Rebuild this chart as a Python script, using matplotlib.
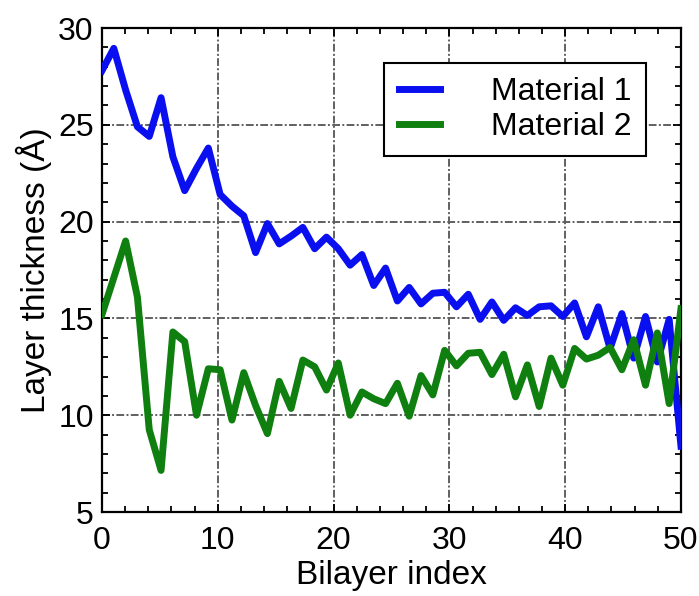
import numpy as np
import matplotlib
matplotlib.use("Agg")
import matplotlib.pyplot as plt
from matplotlib.ticker import MultipleLocator

plt.rcParams['font.family'] = ['Liberation Sans', 'DejaVu Sans']

# layer thicknesses (50 bilayers, spread over 0..50)
material1 = [27.8, 28.95, 26.8, 24.9, 24.4, 26.4, 23.35, 21.6, 22.75, 23.8,
             21.4, 20.8, 20.3, 18.4, 19.9, 18.85, 19.25, 19.7, 18.6, 19.2,
             18.6, 17.75, 18.3, 16.7, 17.6, 15.9, 16.6, 15.75, 16.3, 16.35,
             15.6, 16.25, 14.95, 15.85, 14.9, 15.55, 15.15, 15.6, 15.65, 15.1,
             15.8, 14.05, 15.6, 13.45, 15.25, 12.95, 15.1, 12.75, 14.95, 8.4]
material2 = [15.2, 17.1, 19.0, 16.1, 9.25, 7.15, 14.3, 13.8, 10.0, 12.4,
             12.35, 9.75, 12.2, 10.5, 9.05, 11.75, 10.35, 12.85, 12.5, 11.3,
             12.7, 10.0, 11.2, 10.85, 10.6, 11.65, 9.95, 12.05, 11.05, 13.35,
             12.55, 13.2, 13.25, 12.1, 13.15, 10.95, 12.6, 10.45, 12.95, 11.55,
             13.45, 12.9, 13.1, 13.5, 12.35, 13.9, 11.55, 14.25, 10.6, 15.5]
labels = ['Material 1', 'Material 2']

bilayer = np.linspace(0, 50, len(material1))

fig = plt.figure(figsize=(6.99, 5.96), dpi=100)
ax = fig.add_axes([0.1459, 0.1409, 0.8283, 0.8121])

ax.plot(bilayer, material1, color='#0a0ff0', lw=5, label=labels[0], zorder=3)
ax.plot(bilayer, material2, color='#0f7f0f', lw=5, label=labels[1], zorder=3)

ax.set_xlim(0, 50)
ax.set_ylim(5, 30)
ax.xaxis.set_major_locator(MultipleLocator(10))
ax.xaxis.set_minor_locator(MultipleLocator(2))
ax.yaxis.set_major_locator(MultipleLocator(5))
ax.yaxis.set_minor_locator(MultipleLocator(1))

ax.grid(True, which='major', color='#606060', lw=1.4, ls=(0, (4, 1.2, 1, 1.2)))
ax.tick_params(which='both', direction='in', top=True, right=True,
               labelsize=23, width=1.3, color='black')
ax.tick_params(which='major', length=6)
ax.tick_params(which='minor', length=4)
ax.tick_params(axis='x', pad=10)
ax.tick_params(axis='y', pad=6)
for s in ax.spines.values():
    s.set_linewidth(1.6)

ax.set_xlabel('Bilayer index', fontsize=24, labelpad=3)
ax.set_ylabel('Layer thickness (Å)', fontsize=24, labelpad=4)

leg = ax.legend(loc='upper right', bbox_to_anchor=(0.94, 0.928), borderaxespad=0,
                fontsize=23, fancybox=False, framealpha=1, edgecolor='black',
                handlelength=1.3, handletextpad=1.6, labelspacing=0.15,
                borderpad=0.45)
leg.get_frame().set_linewidth(1.5)

fig.savefig('out.png', dpi=100)
